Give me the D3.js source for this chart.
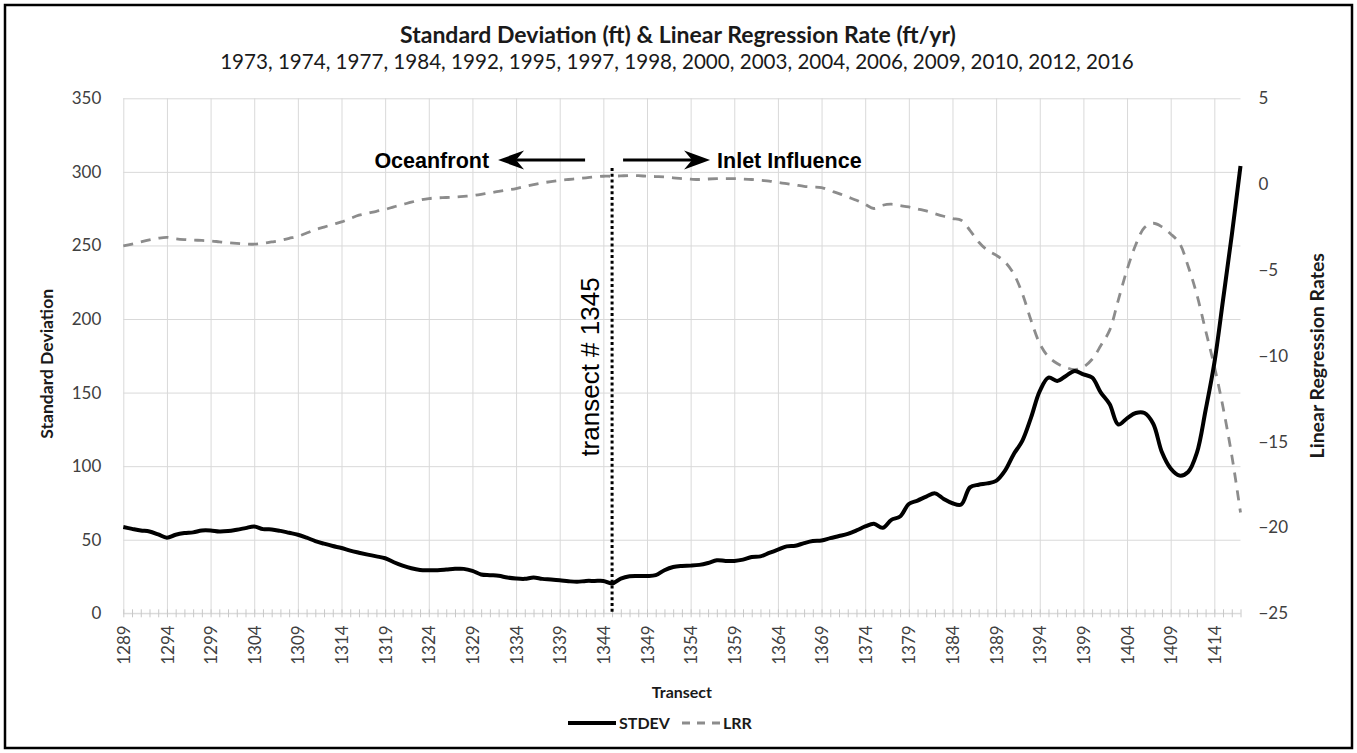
<!DOCTYPE html>
<html>
<head>
<meta charset="utf-8">
<script src="https://cdn.jsdelivr.net/npm/d3@7"></script>
<style>
  html, body { margin: 0; padding: 0; background: #fff; }
  svg { display: block; }
</style>
</head>
<body>
<svg id="chart" width="1357" height="753"></svg>
<script>
// Transect numbers along the shoreline (one point per transect)
const firstTransect = 1289;
const lastTransect = 1417;
const transects = d3.range(firstTransect, lastTransect + 1);

// Labelled transects on the horizontal axis
const transectLabels = [1289, 1294, 1299, 1304, 1309, 1314, 1319, 1324, 1329, 1334, 1339,
  1344, 1349, 1354, 1359, 1364, 1369, 1374, 1379, 1384, 1389, 1394, 1399, 1404, 1409, 1414];

// Standard deviation of shoreline position (ft), transects 1289..1417
const stdev = [
  58.6, 57.4, 56.3, 55.6, 53.6, 51.4, 53.4, 54.5, 55.0, 56.3,
  56.3, 55.6, 55.9, 56.8, 57.9, 59.0, 57.2, 57.0, 56.0, 54.7,
  53.4, 51.4, 49.1, 47.3, 45.7, 44.4, 42.6, 41.2, 39.9, 38.7,
  37.4, 34.7, 32.4, 30.6, 29.5, 29.3, 29.3, 29.7, 30.2, 30.2,
  28.8, 26.4, 25.9, 25.5, 24.3, 23.6, 23.4, 24.3, 23.4, 23.0,
  22.5, 21.8, 21.4, 22.0, 22.0, 22.0, 20.3, 23.6, 25.2, 25.4,
  25.4, 25.9, 29.3, 31.5, 32.2, 32.4, 32.9, 34.2, 36.0, 35.6,
  35.6, 36.5, 38.3, 38.7, 41.0, 43.2, 45.5, 45.9, 47.7, 49.1,
  49.5, 51.1, 52.5, 54.0, 56.3, 59.0, 60.8, 58.1, 63.5, 65.8,
  74.3, 76.6, 79.3, 81.5, 77.7, 74.8, 73.9, 85.6, 87.4, 88.3,
  90.0, 96.8, 108.0, 117.2, 133.0, 151.0, 160.2, 157.9, 161.3, 164.7,
  162.4, 160.2, 150.0, 142.2, 128.3, 132.5, 136.1, 136.1, 128.8, 109.4,
  98.4, 93.6, 96.0, 109.0, 138.0, 170.0, 213.0, 257.0, 304.0
];

// Linear regression rate (ft/yr), transects 1289..1417
const lrr = [
  -3.60, -3.50, -3.37, -3.25, -3.15, -3.10, -3.18, -3.23, -3.26, -3.28,
  -3.31, -3.36, -3.41, -3.45, -3.48, -3.50, -3.45, -3.37, -3.28, -3.16,
  -3.04, -2.85, -2.65, -2.50, -2.35, -2.20, -2.00, -1.81, -1.70, -1.58,
  -1.48, -1.32, -1.19, -1.05, -0.93, -0.84, -0.80, -0.78, -0.75, -0.71,
  -0.67, -0.59, -0.51, -0.42, -0.34, -0.26, -0.14, -0.03, 0.07, 0.15,
  0.22, 0.27, 0.32, 0.37, 0.42, 0.46, 0.46, 0.48, 0.50, 0.49,
  0.46, 0.44, 0.42, 0.37, 0.32, 0.29, 0.27, 0.30, 0.32, 0.32,
  0.32, 0.30, 0.27, 0.22, 0.18, 0.10, 0.03, -0.05, -0.13, -0.17,
  -0.20, -0.38, -0.55, -0.75, -0.94, -1.18, -1.42, -1.23, -1.17, -1.25,
  -1.33, -1.45, -1.56, -1.72, -1.87, -2.00, -2.10, -2.69, -3.37, -3.85,
  -4.14, -4.53, -5.21, -6.37, -7.93, -9.29, -10.06, -10.45, -10.68, -10.80,
  -10.65, -10.20, -9.40, -8.52, -6.75, -4.99, -3.53, -2.53, -2.28, -2.49,
  -2.90, -3.43, -4.78, -6.44, -8.52, -10.60, -13.00, -15.80, -19.13
];

const leftTicks = [0, 50, 100, 150, 200, 250, 300, 350];
const rightTicks = [-25, -20, -15, -10, -5, 0, 5];
const markedTransect = 1345;

const titleText = "Standard Deviation (ft) & Linear Regression Rate (ft/yr)";
const subtitleText = "1973, 1974, 1977, 1984, 1992, 1995, 1997, 1998, 2000, 2003, 2004, 2006, 2009, 2010, 2012, 2016";

// ---- layout ----
const plot = { left: 123.3, right: 1240.5, top: 98.3, bottom: 613.3 };
const labelFont = "Lato, 'Open Sans', sans-serif";
const annoFont = "'Liberation Sans', Arial, sans-serif";
const textGray = "#404040";
const gridGray = "#d9d9d9";

const svg = d3.select("#chart");

const x = d3.scaleLinear().domain([firstTransect, lastTransect]).range([plot.left, plot.right]);
const yL = d3.scaleLinear().domain([0, 350]).range([plot.bottom, plot.top]);
const yR = d3.scaleLinear().domain([-25, 5]).range([plot.bottom, plot.top]);

// outer frame
svg.append("rect")
  .attr("x", 5).attr("y", 5).attr("width", 1347).attr("height", 743)
  .attr("fill", "#fff").attr("stroke", "#000").attr("stroke-width", 2.5);

// horizontal gridlines (left axis)
svg.append("g")
  .attr("transform", `translate(${plot.left},0)`)
  .call(d3.axisLeft(yL).tickValues(leftTicks).tickSize(-(plot.right - plot.left)).tickFormat(""))
  .call(g => g.select(".domain").remove())
  .call(g => g.selectAll("line").attr("stroke", gridGray).attr("stroke-width", 1));

// vertical gridlines at the labelled transects
svg.append("g")
  .attr("transform", `translate(0,${plot.bottom})`)
  .call(d3.axisBottom(x).tickValues(transectLabels).tickSize(-(plot.bottom - plot.top)).tickFormat(""))
  .call(g => g.select(".domain").remove())
  .call(g => g.selectAll("line").attr("stroke", gridGray).attr("stroke-width", 1));

// category axis line with a cross tick at every transect
svg.append("line")
  .attr("x1", plot.left).attr("x2", plot.right)
  .attr("y1", plot.bottom).attr("y2", plot.bottom)
  .attr("stroke", gridGray).attr("stroke-width", 1);
svg.append("g")
  .attr("transform", `translate(0,${plot.bottom})`)
  .call(d3.axisBottom(x).tickValues(transects).tickSize(4).tickSizeOuter(0).tickFormat(""))
  .call(g => g.select(".domain").remove())
  .call(g => g.selectAll("line").attr("y1", -4).attr("stroke", "#c8c8c8").attr("stroke-width", 1));

// left axis labels
svg.append("g")
  .attr("transform", `translate(${plot.left},0)`)
  .call(d3.axisLeft(yL).tickValues(leftTicks).tickSize(0).tickPadding(22))
  .call(g => g.select(".domain").remove())
  .call(g => g.selectAll("text").attr("font-family", labelFont).attr("font-size", 17).attr("fill", textGray));

// right axis labels
svg.append("g")
  .attr("transform", `translate(${plot.right},0)`)
  .call(d3.axisRight(yR).tickValues(rightTicks).tickSize(0).tickPadding(18))
  .call(g => g.select(".domain").remove())
  .call(g => g.selectAll("text").attr("font-family", labelFont).attr("font-size", 17).attr("fill", textGray));

// bottom axis labels, rotated
svg.append("g")
  .attr("transform", `translate(0,${plot.bottom})`)
  .call(d3.axisBottom(x).tickValues(transectLabels).tickSize(0).tickFormat(d3.format("d")))
  .call(g => g.select(".domain").remove())
  .call(g => g.selectAll("text")
    .attr("font-family", labelFont).attr("font-size", 17).attr("fill", textGray)
    .attr("transform", "rotate(-90)")
    .attr("text-anchor", "end")
    .attr("x", -12).attr("y", 0).attr("dy", "0.36em"));

// titles
svg.append("text")
  .attr("x", 678).attr("y", 43)
  .attr("text-anchor", "middle")
  .attr("font-family", labelFont).attr("font-weight", "bold").attr("font-size", 23)
  .attr("fill", "#1a1a1a")
  .text(titleText);
svg.append("text")
  .attr("x", 677).attr("y", 69)
  .attr("text-anchor", "middle")
  .attr("font-family", labelFont).attr("font-size", 20.6)
  .attr("fill", "#1a1a1a")
  .text(subtitleText);

// axis titles
svg.append("text")
  .attr("transform", `translate(53,${(plot.top + plot.bottom) / 2 + 8}) rotate(-90)`)
  .attr("text-anchor", "middle")
  .attr("font-family", labelFont).attr("font-weight", "bold").attr("font-size", 17.5)
  .attr("fill", "#1a1a1a")
  .text("Standard Deviation");
svg.append("text")
  .attr("transform", `translate(1324,${(plot.top + plot.bottom) / 2}) rotate(-90)`)
  .attr("text-anchor", "middle")
  .attr("font-family", labelFont).attr("font-weight", "bold").attr("font-size", 19.5)
  .attr("fill", "#1a1a1a")
  .text("Linear Regression Rates");
svg.append("text")
  .attr("x", (plot.left + plot.right) / 2).attr("y", 698)
  .attr("text-anchor", "middle")
  .attr("font-family", labelFont).attr("font-weight", "bold").attr("font-size", 16)
  .attr("fill", "#1a1a1a")
  .text("Transect");

// series
const rows = transects.map((t, i) => ({ t, sd: stdev[i], rate: lrr[i] }));

svg.append("path")
  .datum(rows)
  .attr("fill", "none")
  .attr("stroke", "#8c8c8c")
  .attr("stroke-width", 2.8)
  .attr("stroke-dasharray", "10,8")
  .attr("d", d3.line().x(d => x(d.t)).y(d => yR(d.rate)).curve(d3.curveCatmullRom));

svg.append("path")
  .datum(rows)
  .attr("fill", "none")
  .attr("stroke", "#000")
  .attr("stroke-width", 4)
  .attr("stroke-linejoin", "round")
  .attr("d", d3.line().x(d => x(d.t)).y(d => yL(d.sd)).curve(d3.curveCatmullRom));

// marker line at transect 1345
const xm = x(markedTransect);
svg.append("line")
  .attr("x1", xm).attr("x2", xm)
  .attr("y1", 168).attr("y2", plot.bottom)
  .attr("stroke", "#000").attr("stroke-width", 3)
  .attr("stroke-dasharray", "3,2.8");

svg.append("text")
  .attr("transform", `translate(${xm - 13},367) rotate(-90)`)
  .attr("text-anchor", "middle")
  .attr("font-family", annoFont).attr("font-size", 26)
  .attr("fill", "#000")
  .text("transect # " + markedTransect);

// direction arrows
function arrow(x0, x1, y) {
  const dir = Math.sign(x1 - x0);
  const headLen = 26, headHalf = 9.5, notch = 8;
  svg.append("line")
    .attr("x1", x0).attr("x2", x1 - dir * (headLen - notch))
    .attr("y1", y).attr("y2", y)
    .attr("stroke", "#000").attr("stroke-width", 3);
  svg.append("path")
    .attr("d", `M${x1},${y} L${x1 - dir * headLen},${y - headHalf} L${x1 - dir * (headLen - notch)},${y} L${x1 - dir * headLen},${y + headHalf} Z`)
    .attr("fill", "#000");
}
const arrowY = 160;
arrow(xm - 27, xm - 114, arrowY);
arrow(xm + 11, xm + 98, arrowY);

svg.append("text")
  .attr("x", xm - 123).attr("y", arrowY).attr("dy", "0.36em")
  .attr("text-anchor", "end")
  .attr("font-family", annoFont).attr("font-weight", "bold").attr("font-size", 21.5)
  .attr("fill", "#000")
  .text("Oceanfront");
svg.append("text")
  .attr("x", xm + 105).attr("y", arrowY).attr("dy", "0.36em")
  .attr("text-anchor", "start")
  .attr("font-family", annoFont).attr("font-weight", "bold").attr("font-size", 21.5)
  .attr("fill", "#000")
  .text("Inlet Influence");

// legend
const legY = 723;
const leg = svg.append("g").attr("font-family", labelFont).attr("font-weight", "bold").attr("font-size", 16).attr("fill", "#1a1a1a");
leg.append("line").attr("x1", 568).attr("x2", 616).attr("y1", legY).attr("y2", legY)
  .attr("stroke", "#000").attr("stroke-width", 4);
leg.append("text").attr("x", 619).attr("y", legY).attr("dy", "0.35em").text("STDEV");
leg.append("line").attr("x1", 682).attr("x2", 720).attr("y1", legY).attr("y2", legY)
  .attr("stroke", "#8c8c8c").attr("stroke-width", 2.8).attr("stroke-dasharray", "8,7");
leg.append("text").attr("x", 723).attr("y", legY).attr("dy", "0.35em").text("LRR");
</script>
</body>
</html>
